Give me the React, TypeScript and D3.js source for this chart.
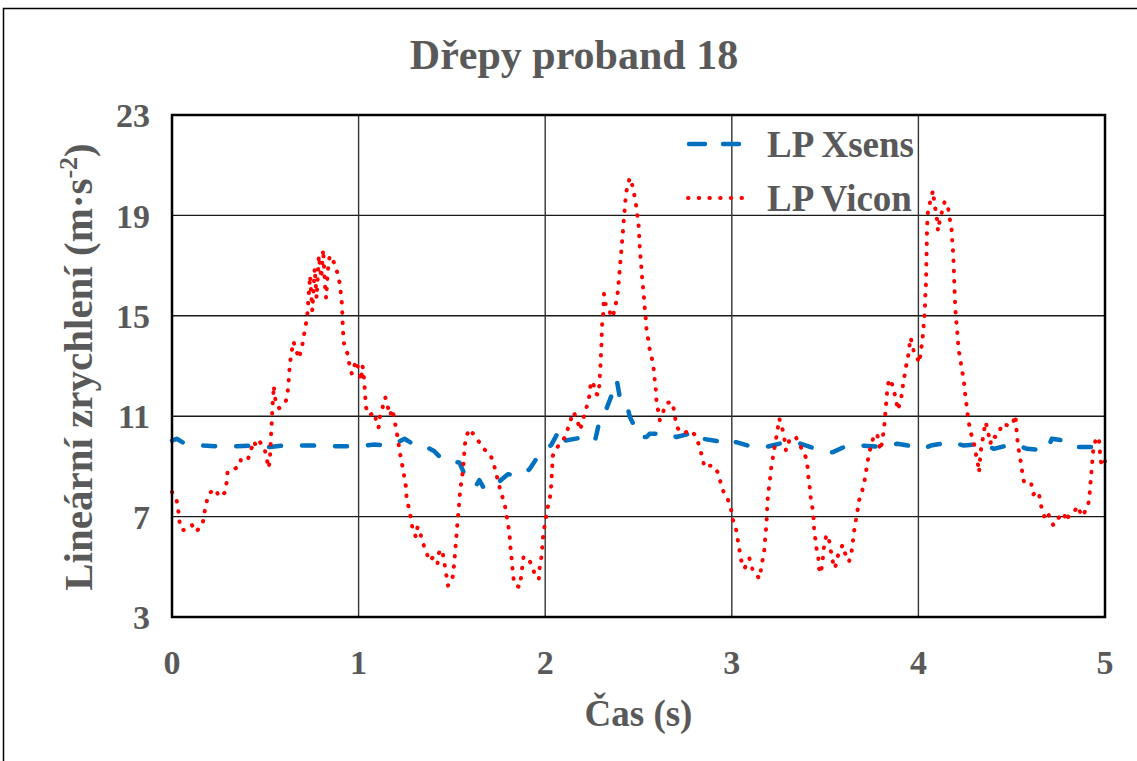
import React from "react";
import * as d3 from "d3";

const TITLE = "Dřepy proband 18";
const X_TITLE = "Čas (s)";
const Y_TITLE_MAIN = "Lineární zrychlení (m·s";
const Y_TITLE_SUP = "-2";
const Y_TITLE_END = ")";
const SERIES_NAMES = ["LP Xsens", "LP Vicon"];
const X_TICKS = [0, 1, 2, 3, 4, 5];
const Y_TICKS = [3, 7, 11, 15, 19, 23];

const xsensT = [0.0, 0.025, 0.07, 0.168, 0.239, 0.346, 0.435, 0.524, 0.595, 0.756, 0.907, 0.987, 1.086, 1.175, 1.246, 1.29, 1.326, 1.406, 1.46, 1.54, 1.567, 1.58, 1.629, 1.647, 1.674, 1.734, 1.8, 1.871, 1.916, 1.97, 2.032, 2.08, 2.107, 2.214, 2.24, 2.267, 2.294, 2.329, 2.374, 2.383, 2.409, 2.445, 2.454, 2.507, 2.543, 2.56, 2.676, 2.703, 2.81, 2.845, 2.952, 2.996, 3.023, 3.112, 3.183, 3.29, 3.343, 3.45, 3.539, 3.619, 3.699, 3.806, 3.886, 3.995, 4.021, 4.066, 4.173, 4.244, 4.351, 4.404, 4.511, 4.582, 4.689, 4.715, 4.778, 4.822, 4.902, 5.0];
const xsensV = [10.03, 10.1, 9.9, 9.83, 9.8, 9.8, 9.83, 9.77, 9.83, 9.83, 9.8, 9.8, 9.87, 9.83, 10.1, 9.9, 9.93, 9.6, 9.2, 9.16, 8.69, 8.56, 8.23, 8.45, 8.09, 8.27, 8.69, 8.63, 8.89, 9.5, 9.85, 10.5, 10.03, 10.17, 10.03, 10.03, 10.91, 11.31, 12.18, 12.45, 11.38, 11.24, 10.97, 10.17, 10.17, 10.3, 10.3, 10.17, 10.37, 10.1, 9.97, 9.83, 9.97, 9.77, 9.77, 9.97, 9.97, 9.7, 9.56, 9.83, 9.83, 9.77, 9.9, 9.77, 9.7, 9.83, 9.97, 9.83, 9.9, 9.7, 9.9, 9.7, 9.63, 10.1, 10.03, 9.77, 9.77, 9.77];

const viconT = [0.0, 0.025, 0.034, 0.039, 0.054, 0.075, 0.107, 0.129, 0.164, 0.173, 0.182, 0.196, 0.227, 0.257, 0.286, 0.293, 0.298, 0.325, 0.357, 0.37, 0.405, 0.423, 0.438, 0.454, 0.471, 0.495, 0.507, 0.518, 0.525, 0.53, 0.533, 0.536, 0.538, 0.543, 0.545, 0.557, 0.575, 0.611, 0.62, 0.625, 0.629, 0.634, 0.65, 0.664, 0.679, 0.696, 0.705, 0.714,
  0.725, 0.74, 0.752, 0.765, 0.775, 0.787, 0.8, 0.81, 0.82, 0.826, 0.835, 0.845, 0.87, 0.888, 0.9, 0.905, 0.911, 0.914, 0.918, 0.923, 0.941, 0.95, 0.964, 0.986, 1.004, 1.013, 1.021, 1.03, 1.036, 1.039, 1.057, 1.084, 1.096, 1.107, 1.114, 1.129, 1.143, 1.155, 1.168, 1.182, 1.191, 1.2, 1.209, 1.218, 1.227, 1.236, 1.245, 1.254, 1.257, 1.268, 1.28, 1.289, 1.307, 1.316, 1.329, 1.343, 1.361, 1.382, 1.4, 1.423, 1.429,
  1.443, 1.452, 1.461, 1.47, 1.479, 1.502, 1.509, 1.514, 1.518, 1.523, 1.527, 1.532, 1.537, 1.541, 1.546, 1.555, 1.56, 1.565, 1.568, 1.577, 1.595, 1.627, 1.654, 1.675, 1.705, 1.723, 1.737, 1.75, 1.764, 1.782, 1.791, 1.8, 1.809, 1.812, 1.818, 1.823, 1.827, 1.836, 1.862, 1.871, 1.877, 1.884, 1.912, 1.934, 1.952, 1.966, 1.97, 1.979, 1.984, 1.988, 1.996, 2.005, 2.014, 2.027, 2.032, 2.035, 2.038, 2.041,
  2.071, 2.107, 2.133, 2.151, 2.169, 2.187, 2.214, 2.231, 2.24, 2.244, 2.258, 2.267, 2.285, 2.29, 2.294, 2.297, 2.299, 2.302, 2.303, 2.305, 2.311, 2.315, 2.32, 2.329, 2.347, 2.361, 2.374, 2.386, 2.391, 2.397, 2.4, 2.406, 2.409, 2.415, 2.418, 2.423, 2.427, 2.432, 2.44, 2.454, 2.468, 2.48, 2.489, 2.495, 2.502, 2.504, 2.507, 2.511, 2.516, 2.52, 2.525, 2.53, 2.534, 2.539, 2.543, 2.552, 2.56, 2.573, 2.582, 2.587, 2.593, 2.596, 2.605, 2.614, 2.632, 2.649, 2.676, 2.685, 2.694, 2.703, 2.721, 2.75, 2.783, 2.81, 2.827, 2.842, 2.854, 2.881, 2.902, 2.925, 2.94, 2.957, 2.979, 2.996,
  3.005, 3.023, 3.032, 3.041, 3.05, 3.068, 3.094, 3.112, 3.13, 3.148, 3.165, 3.174, 3.178, 3.183, 3.187, 3.189, 3.192, 3.198, 3.205, 3.21, 3.219, 3.228, 3.237, 3.246, 3.254, 3.269, 3.281, 3.29, 3.308, 3.326, 3.343, 3.37, 3.397, 3.406, 3.411, 3.418, 3.423, 3.432, 3.438, 3.441, 3.447, 3.454, 3.464, 3.468, 3.477, 3.486, 3.495, 3.507, 3.521, 3.53, 3.539, 3.553, 3.566, 3.584, 3.593, 3.607, 3.628, 3.642, 3.649, 3.655, 3.664, 3.673, 3.681, 3.696, 3.708, 3.717, 3.726, 3.735, 3.749, 3.762, 3.779, 3.788, 3.797, 3.806, 3.815, 3.82, 3.824, 3.829, 3.833, 3.842, 3.854, 3.863, 3.877, 3.89, 3.9, 3.909, 3.916, 3.925, 3.934, 3.945, 3.952, 3.957, 3.966, 3.975, 3.993,
  4.007, 4.011, 4.02, 4.025, 4.029, 4.034, 4.036, 4.038, 4.041, 4.042, 4.043, 4.044, 4.045, 4.046, 4.048, 4.051, 4.058, 4.066, 4.078, 4.084, 4.093, 4.101, 4.105, 4.114, 4.128, 4.141, 4.16, 4.169, 4.178, 4.181, 4.185, 4.188, 4.19, 4.192, 4.194, 4.196, 4.199, 4.203, 4.208, 4.212, 4.217, 4.226, 4.235, 4.244, 4.249, 4.256, 4.262, 4.27, 4.279, 4.297, 4.306, 4.318, 4.325, 4.333, 4.351, 4.359, 4.368, 4.377, 4.386, 4.395, 4.413, 4.431, 4.448, 4.475, 4.502, 4.52, 4.528, 4.534, 4.543, 4.552, 4.559, 4.569, 4.591, 4.605, 4.617, 4.635, 4.648, 4.658, 4.674, 4.692, 4.706, 4.724, 4.751, 4.778, 4.795, 4.804, 4.831, 4.854, 4.875, 4.907, 4.916, 4.92, 4.925, 4.929, 4.934, 4.938, 4.956, 4.968, 4.972, 4.975, 4.985, 5.0];
const viconV = [7.98, 7.65, 7.23, 6.83, 6.46, 6.48, 6.66, 6.39, 6.7, 7.12, 7.49, 7.89, 8.11, 7.78, 7.98, 8.38, 8.8, 8.88, 8.97, 9.28, 9.24, 9.64, 10.01, 9.77, 9.97, 9.74, 9.33, 8.93, 9.33, 10.1, 10.56, 10.96, 11.38, 11.82, 12.22, 11.49, 11.32, 11.62, 11.98, 12.39, 12.81, 13.21, 13.98, 13.7, 13.3, 13.72, 14.14, 14.5,
  15.0, 16.6, 15.2, 16.9, 15.7, 17.4, 16.5, 17.65, 16.2, 15.7, 16.8, 17.4, 17.1, 16.66, 16.26, 15.86, 15.46, 14.8, 14.2, 13.81, 13.48, 13.08, 12.68, 13.21, 12.75, 12.42, 13.01, 12.42, 11.75, 11.36, 11.03, 11.16, 10.76, 10.54, 10.96, 11.36, 11.75, 11.42, 11.03, 11.29, 10.89, 10.54, 10.17, 9.7, 9.3, 8.97, 8.58, 8.18, 7.78, 7.38, 6.95, 6.52, 6.19, 6.59, 6.39, 5.99, 5.6, 5.23, 5.4, 5.13, 5.53,
  5.7, 5.49, 5.09, 4.69, 4.25, 4.49, 4.89, 5.29, 5.69, 6.09, 6.52, 6.92, 7.36, 7.76, 8.16, 8.56, 8.96, 9.36, 9.8, 10.2, 10.49, 10.16, 9.89, 9.67, 9.49, 9.13, 8.73, 8.33, 7.93, 7.53, 7.13, 6.73, 6.33, 5.89, 5.49, 5.09, 4.69, 4.29, 4.19, 4.6, 5.0, 5.4, 5.32, 4.92, 4.53, 4.53, 4.95, 5.36, 5.76, 6.16, 6.59, 6.99, 7.39, 7.83, 8.23, 8.63, 9.03, 9.43,
  9.83, 10.17, 10.77, 11.17, 10.91, 10.44, 11.17, 11.58, 11.98, 12.38, 12.32, 11.91, 11.85, 12.25, 12.72, 13.12, 13.52, 13.93, 14.33, 14.66, 15.07, 15.87, 15.47, 15.47, 15.13, 14.93, 15.34, 15.74, 16.14, 16.54, 16.95, 17.35, 17.75, 18.15, 18.56, 18.96, 19.36, 19.77, 20.17, 20.5, 20.17, 19.72, 19.32, 18.92, 18.52, 18.11, 17.71, 17.31, 16.88, 16.48, 16.07, 15.67, 15.27, 14.87, 14.46, 14.06, 13.66, 13.26, 12.85, 12.45, 12.05, 11.64, 11.24, 10.84, 11.17, 11.51, 11.58, 11.44, 11.04, 10.64, 10.37, 10.35, 10.44, 10.17, 9.77, 9.36, 8.96, 9.03, 9.03, 8.76, 8.36, 7.95, 7.68, 7.28,
  6.88, 6.48, 6.07, 5.67, 5.27, 4.93, 5.34, 4.87, 4.7, 4.53, 5.27, 5.67, 6.07, 6.48, 6.88, 7.28, 7.68, 8.09, 8.49, 8.89, 9.3, 9.7, 10.1, 10.5, 10.91, 10.57, 10.17, 9.63, 10.03, 10.17, 10.17, 9.77, 9.36, 8.96, 8.56, 8.15, 7.75, 7.35, 6.95, 6.54, 6.14, 5.74, 5.34, 4.93, 4.73, 5.2, 5.87, 6.28, 6.07, 5.67, 5.27, 4.93, 5.4, 5.67, 5.87, 5.54, 5.2, 5.6, 6.01, 6.41, 6.81, 7.21, 7.62, 7.95, 8.29, 8.69, 9.09, 9.5, 9.9, 10.23, 10.3, 9.9, 9.63, 10.03, 10.44, 10.84, 11.24, 11.64, 12.05, 12.45, 12.45, 12.11, 11.78, 11.24, 11.51, 11.78, 12.18, 12.58, 12.99, 13.39, 13.79, 14.13, 13.93, 13.59, 13.32,
  13.12, 13.52, 13.93, 14.33, 14.73, 15.13, 15.54, 15.94, 16.34, 16.74, 17.15, 17.55, 17.95, 18.36, 18.76, 19.16, 19.4, 19.63, 19.99, 19.59, 19.16, 18.79, 18.38, 18.79, 19.19, 19.56, 19.26, 18.83, 18.42, 18.02, 17.62, 17.21, 16.81, 16.41, 16.01, 15.6, 15.2, 14.8, 14.4, 13.99, 13.59, 13.19, 12.79, 12.38, 11.98, 11.58, 11.17, 10.77, 10.37, 9.97, 9.56, 9.16, 8.76, 9.56, 10.37, 10.77, 10.57, 10.23, 9.9, 10.23, 10.17, 10.3, 10.7, 10.64, 10.64, 11.04, 10.23, 9.83, 9.43, 9.03, 8.62, 8.29, 8.29, 8.29, 7.89, 8.02, 7.82, 7.42, 7.01, 7.21, 6.88, 6.65, 6.95, 7.15, 6.81, 7.01, 7.15, 7.42, 7.01, 7.35, 7.75, 8.15, 8.56, 8.96, 9.36, 9.77, 10.17, 10.1, 9.7, 9.3, 9.0, 9.2];

const W = 1137;
const H = 761;
const M = { left: 172, right: 1105, top: 115, bottom: 617 };
const FONT = "'Liberation Serif', 'Times New Roman', serif";
const TEXT_COLOR = "#595959";
const XSENS_COLOR = "#0070C0";
const VICON_COLOR = "#FF0000";

export default function App() {
  const x = d3.scaleLinear().domain([0, 5]).range([M.left, M.right]);
  const y = d3.scaleLinear().domain([3, 23]).range([M.bottom, M.top]);

  const xsens = xsensT.map((t, i) => [t, xsensV[i]] as [number, number]);
  const vicon = viconT.map((t, i) => [t, viconV[i]] as [number, number]);

  const line = d3
    .line<[number, number]>()
    .x((d) => x(d[0]))
    .y((d) => y(d[1]))
    .curve(d3.curveLinear);

  const plotCx = (M.left + M.right) / 2;
  const plotCy = (M.top + M.bottom) / 2;

  return (
    <svg
      width={W}
      height={H}
      style={{ position: "absolute", left: 0, top: 0, background: "#fff" }}
      fontFamily={FONT}
    >
      <rect x={0} y={0} width={W} height={H} fill="#fff" />
      <rect x={3.5} y={8.5} width={W + 20} height={H + 20} fill="none" stroke="#000" strokeWidth={1.5} />

      <text x={574} y={69} textAnchor="middle" fontSize={42} fontWeight="bold" fill={TEXT_COLOR}>
        {TITLE}
      </text>

      {/* gridlines */}
      {Y_TICKS.filter((v) => v !== 3 && v !== 23).map((v) => (
        <line key={"gy" + v} x1={M.left} x2={M.right} y1={y(v)} y2={y(v)} stroke="#1a1a1a" strokeWidth={1.4} />
      ))}
      {X_TICKS.filter((v) => v !== 0 && v !== 5).map((v) => (
        <line key={"gx" + v} x1={x(v)} x2={x(v)} y1={M.top} y2={M.bottom} stroke="#333" strokeWidth={1.4} />
      ))}

      {/* series */}
      <path
        d={line(xsens) || ""}
        fill="none"
        stroke={XSENS_COLOR}
        strokeWidth={4.5}
        strokeDasharray="12 21"
        strokeLinecap="round"
        strokeLinejoin="round"
      />
      <path
        d={line(vicon) || ""}
        fill="none"
        stroke={VICON_COLOR}
        strokeWidth={4}
        strokeDasharray="0.5 9.8"
        strokeLinecap="round"
        strokeLinejoin="round"
      />

      {/* plot border */}
      <rect
        x={M.left}
        y={M.top}
        width={M.right - M.left}
        height={M.bottom - M.top}
        fill="none"
        stroke="#000"
        strokeWidth={2.5}
      />

      {/* y tick labels */}
      {Y_TICKS.map((v) => (
        <text key={"yt" + v} x={150} y={y(v)} dy="0.36em" textAnchor="end" fontSize={34} fontWeight="bold" fill={TEXT_COLOR}>
          {v}
        </text>
      ))}

      {/* x tick labels */}
      {X_TICKS.map((v) => (
        <text key={"xt" + v} x={x(v)} y={674} textAnchor="middle" fontSize={34} fontWeight="bold" fill={TEXT_COLOR}>
          {v}
        </text>
      ))}

      {/* x title */}
      <text x={plotCx} y={726} textAnchor="middle" fontSize={37} fontWeight="bold" fill={TEXT_COLOR}>
        {X_TITLE}
      </text>

      {/* y title */}
      <text
        transform={`translate(92, ${plotCy + 1}) rotate(-90)`}
        textAnchor="middle"
        fontSize={41}
        fontWeight="bold"
        fill={TEXT_COLOR}
      >
        {Y_TITLE_MAIN}
        <tspan fontSize={26} dy={-15}>{Y_TITLE_SUP}</tspan>
        <tspan dy={15}>{Y_TITLE_END}</tspan>
      </text>

      {/* legend */}
      <line x1={689} x2={745} y1={144} y2={144} stroke={XSENS_COLOR} strokeWidth={4.5} strokeDasharray="16 18" strokeLinecap="round" />
      <text x={767} y={157} fontSize={37} fontWeight="bold" fill={TEXT_COLOR}>
        {SERIES_NAMES[0]}
      </text>
      <line x1={688} x2={752} y1={198} y2={198} stroke={VICON_COLOR} strokeWidth={4} strokeDasharray="0.5 10.2" strokeLinecap="round" />
      <text x={767} y={211} fontSize={37} fontWeight="bold" fill={TEXT_COLOR}>
        {SERIES_NAMES[1]}
      </text>
    </svg>
  );
}
